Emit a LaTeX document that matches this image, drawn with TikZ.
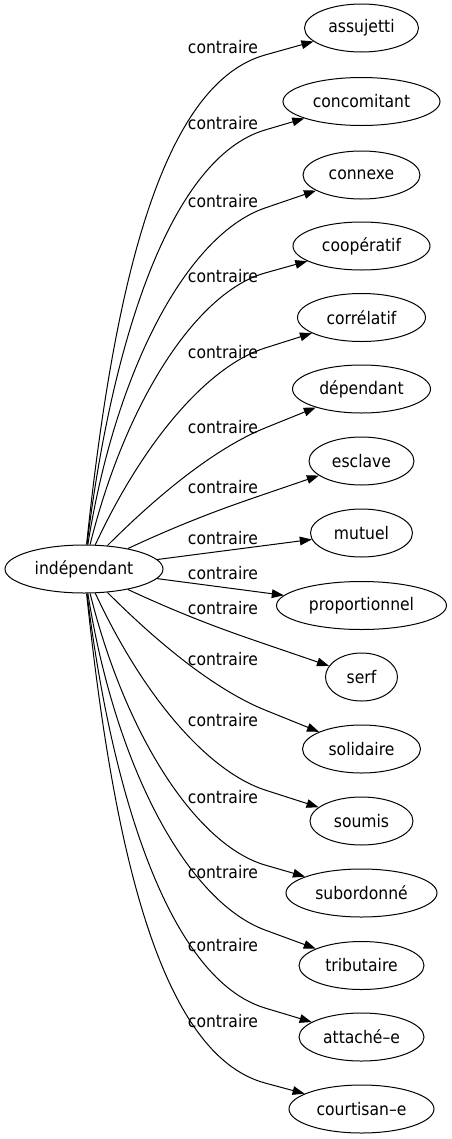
\documentclass[tikz,border=0pt]{standalone}
\usepackage{fontspec}
\setmainfont{DejaVu Sans}[FakeStretch=0.9]
\usetikzlibrary{arrows.meta,shapes.geometric}
\begin{document}
\begin{tikzpicture}[x=0.75pt,y=0.75pt,
  word/.style={ellipse,draw,line width=0.75pt,inner sep=0pt,minimum height=36pt,font=\fontsize{13}{15}\selectfont},
  lab/.style={inner sep=0pt,font=\fontsize{13}{15}\selectfont},
  edge/.style={-{Triangle[length=9pt,width=6.5pt]},line width=0.75pt},
  up/.style={out looseness=1.2,in looseness=0.55}]
\useasboundingbox (0,0) rectangle (452,-1139);
\node[word,minimum width=118.5pt] (root) at (84,-569) {indépendant};
\node[word,minimum width=85.5pt]  (n1)  at (361.5,-28)   {assujetti};
\node[word,minimum width=117.75pt](n2)  at (361.5,-101.5){concomitant};
\node[word,minimum width=87.75pt] (n3)  at (361.5,-175)  {connexe};
\node[word,minimum width=102.75pt](n4)  at (361.5,-246)  {coopératif};
\node[word,minimum width=96pt]    (n5)  at (361.5,-317.5){corrélatif};
\node[word,minimum width=103.5pt] (n6)  at (361.5,-389)  {dépendant};
\node[word,minimum width=78.75pt] (n7)  at (361.5,-461)  {esclave};
\node[word,minimum width=76.5pt]  (n8)  at (361.5,-533)  {mutuel};
\node[word,minimum width=127.5pt] (n9)  at (361.5,-605.5){proportionnel};
\node[word,minimum width=54pt]    (n10) at (361.5,-677)  {serf};
\node[word,minimum width=88.5pt]  (n11) at (361.5,-749)  {solidaire};
\node[word,minimum width=77.25pt] (n12) at (361.5,-821)  {soumis};
\node[word,minimum width=113.25pt](n13) at (361.5,-893)  {subordonné};
\node[word,minimum width=93.75pt] (n14) at (361.5,-965.5){tributaire};
\node[word,minimum width=93.75pt] (n15) at (361.5,-1037) {attaché–e};
\node[word,minimum width=108.75pt](n16) at (361.5,-1109) {courtisan–e};
% waypoints
\coordinate (w1) at (265,-55);
\coordinate (w2) at (265,-130);
\coordinate (w3) at (265,-208);
\coordinate (w4) at (265,-273);
\coordinate (w5) at (265,-348);
\coordinate (w6) at (265,-428);
\coordinate (w7) at (265,-494);
\coordinate (w10) at (265,-644);
\coordinate (w11) at (265,-710);
\coordinate (w12) at (265,-790);
\coordinate (w13) at (265,-865);
\coordinate (w14) at (265,-930);
\coordinate (w15) at (265,-1008);
\coordinate (w16) at (265,-1083);
% edges
\draw[edge] (root) to[up,out=84,in=195.7] (w1) -- (n1);
\draw[edge] (root) to[up,out=83,in=196.5] (w2) -- (n2);
\draw[edge] (root) to[up,out=81,in=198.9] (w3) -- (n3);
\draw[edge] (root) to[up,out=76,in=195.6] (w4) -- (n4);
\draw[edge] (root) to[up,out=65,in=197.5] (w5) -- (n5);
\draw[edge] (root) to[up,out=45,in=202] (w6) -- (n6);
\draw[edge] (root) to[up,out=25,in=198.9] (w7) -- (n7);
\draw[edge] (root) -- (n8);
\draw[edge] (root) -- (n9);
\draw[edge] (root) to[up,out=-25,in=161] (w10) -- (n10);
\draw[edge] (root) to[up,out=-45,in=158] (w11) -- (n11);
\draw[edge] (root) to[up,out=-65,in=162] (w12) -- (n12);
\draw[edge] (root) to[up,out=-76,in=163.7] (w13) -- (n13);
\draw[edge] (root) to[up,out=-81,in=159.7] (w14) -- (n14);
\draw[edge] (root) to[up,out=-83,in=163.2] (w15) -- (n15);
\draw[edge] (root) to[up,out=-84,in=164.8] (w16) -- (n16);
% labels
\node[lab] (l1)  at (223,-47)   {contraire};
\node[lab] (l2)  at (223,-123)  {contraire};
\node[lab] (l3)  at (223,-201)  {contraire};
\node[lab] (l4)  at (223,-276)  {contraire};
\node[lab] (l5)  at (223,-352)  {contraire};
\node[lab] (l6)  at (223,-427)  {contraire};
\node[lab] (l7)  at (223,-487)  {contraire};
\node[lab] (l8)  at (223,-538)  {contraire};
\node[lab] (l9)  at (223,-573)  {contraire};
\node[lab] (l10) at (223,-608)  {contraire};
\node[lab] (l11) at (223,-659)  {contraire};
\node[lab] (l12) at (223,-720)  {contraire};
\node[lab] (l13) at (223,-797)  {contraire};
\node[lab] (l14) at (223,-872)  {contraire};
\node[lab] (l15) at (223,-945)  {contraire};
\node[lab] (l16) at (223,-1021) {contraire};
\end{tikzpicture}
\end{document}
